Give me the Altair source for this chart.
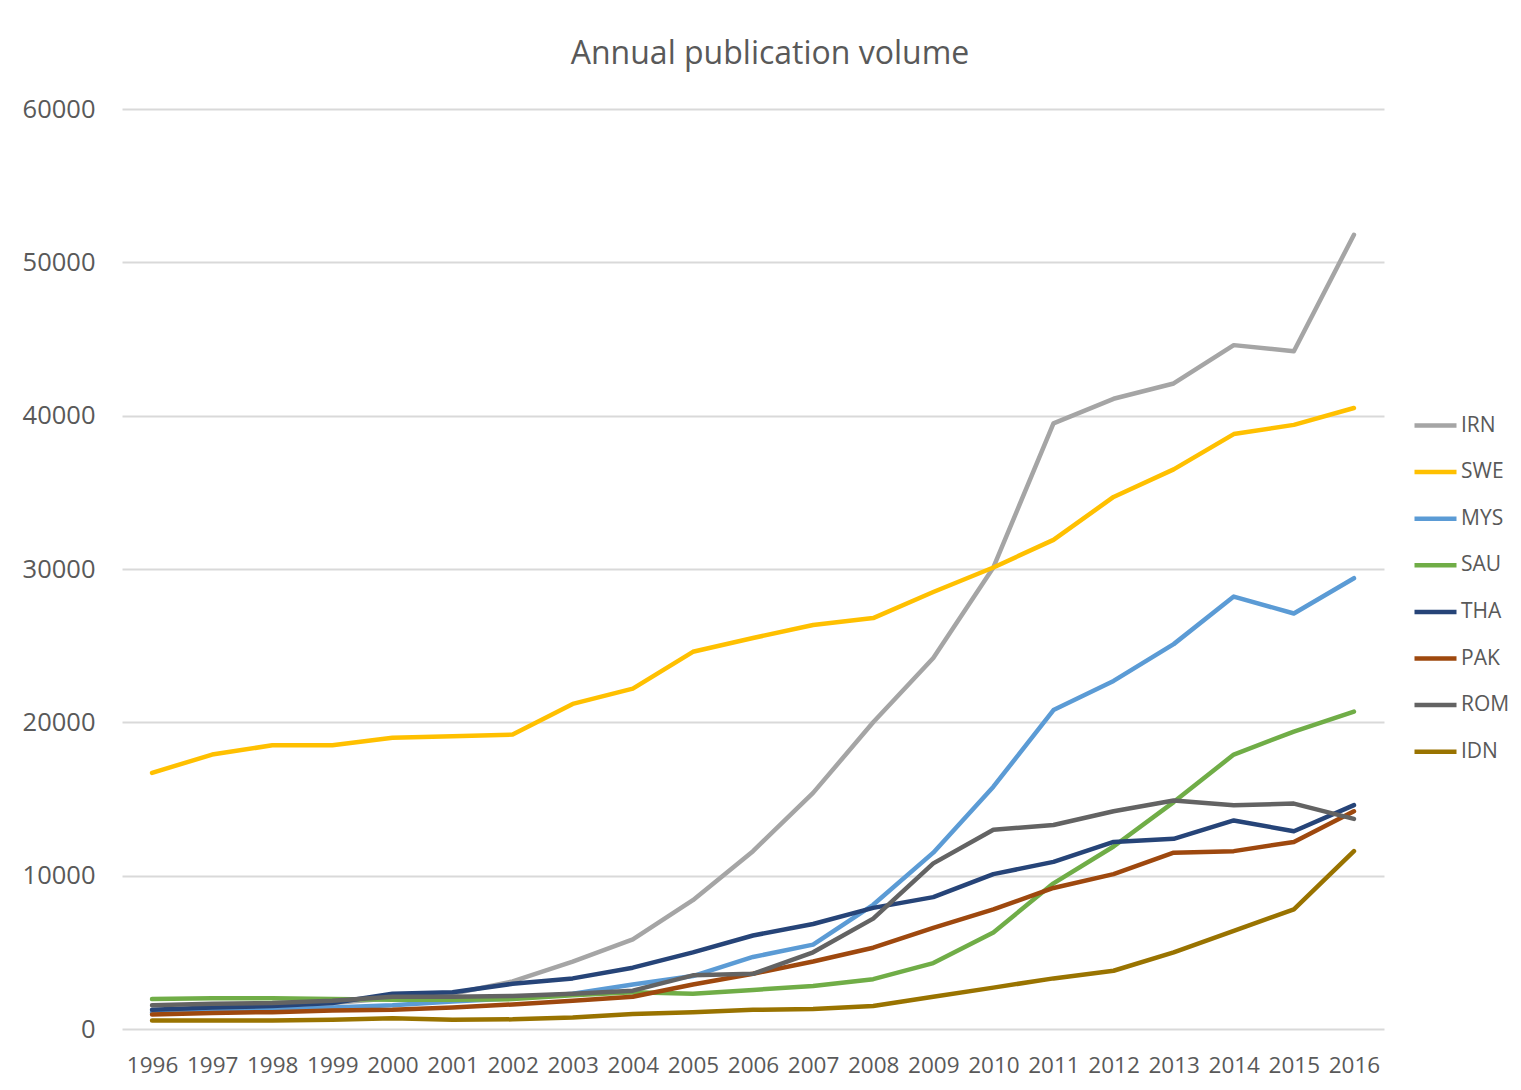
import altair as alt
import pandas as pd

years = [str(y) for y in range(1996, 2017)]
series = ["IRN", "SWE", "MYS", "SAU", "THA", "PAK", "ROM", "IDN"]
colors = ["#A5A5A5", "#FFC000", "#5B9BD5", "#70AD47", "#264478", "#9E480E", "#636363", "#997300"]

IRN = [1100, 1300, 1500, 1700, 2000, 2300, 3100, 4400, 5850, 8400, 11600, 15400, 20000, 24200, 30100, 39500, 41100, 42100, 44600, 44200, 51800]
SWE = [16700, 17900, 18500, 18500, 19000, 19100, 19200, 21200, 22200, 24600, 25500, 26350, 26800, 28500, 30100, 31900, 34700, 36500, 38800, 39400, 40500]
MYS = [1050, 1150, 1250, 1400, 1550, 1800, 2000, 2300, 2900, 3450, 4700, 5500, 8100, 11500, 15800, 20800, 22700, 25100, 28200, 27100, 29400]
SAU = [1950, 2000, 2000, 1950, 1900, 1900, 1950, 2200, 2400, 2300, 2550, 2800, 3250, 4300, 6300, 9500, 11900, 14800, 17900, 19400, 20700]
THA = [1250, 1400, 1500, 1700, 2300, 2400, 2950, 3300, 4000, 5000, 6100, 6850, 7900, 8600, 10100, 10900, 12200, 12400, 13600, 12900, 14600]
PAK = [950, 1050, 1100, 1200, 1250, 1400, 1600, 1850, 2100, 2900, 3600, 4400, 5300, 6600, 7800, 9200, 10100, 11500, 11600, 12200, 14200]
ROM = [1550, 1650, 1700, 1850, 2100, 2100, 2150, 2300, 2500, 3500, 3600, 5000, 7200, 10800, 13000, 13300, 14200, 14900, 14600, 14700, 13700]
IDN = [550, 550, 550, 600, 700, 600, 630, 750, 980, 1100, 1250, 1300, 1500, 2100, 2700, 3300, 3800, 5000, 6400, 7800, 11600]

values = {"IRN": IRN, "SWE": SWE, "MYS": MYS, "SAU": SAU, "THA": THA, "PAK": PAK, "ROM": ROM, "IDN": IDN}
rows = []
for s in series:
    for yr, v in zip(years, values[s]):
        rows.append({"Year": yr, "Country": s, "Volume": v})
df = pd.DataFrame(rows)

FONT = "Open Sans"
TXT = "#595959"

chart = alt.Chart(df).mark_line(strokeWidth=4.5, strokeCap="round", strokeJoin="round").encode(
    x=alt.X("Year:O", sort=years,
            scale=alt.Scale(type="point", padding=0.5),
            axis=alt.Axis(title=None, labelAngle=0, labelFontSize=22.5, labelColor=TXT, labelFont=FONT,
                          ticks=False, domain=False, grid=False, labelPadding=25)),
    y=alt.Y("Volume:Q", scale=alt.Scale(domain=[0, 60000]),
            axis=alt.Axis(title=None, values=[0, 10000, 20000, 30000, 40000, 50000, 60000], format="d",
                          labelFontSize=25.5, labelColor=TXT, labelFont=FONT, ticks=False, domain=False,
                          gridColor="#D9D9D9", gridWidth=2, labelPadding=27)),
    color=alt.Color("Country:N", scale=alt.Scale(domain=series, range=colors),
                    legend=alt.Legend(title=None, orient="none", legendX=1290, legendY=293,
                                      symbolType="stroke", symbolSize=1764, symbolStrokeWidth=4.5,
                                      labelFontSize=21, labelColor=TXT, labelFont=FONT,
                                      labelOffset=2, rowPadding=12.6, padding=0)),
    detail="Country:N",
).properties(
    width=1262, height=920,
    title=alt.TitleParams("Annual publication volume", fontSize=32, font=FONT, color=TXT,
                          fontWeight="normal", anchor="middle", offset=26, dx=17),
    autosize=alt.AutoSizeParams(type="none"),
    padding={"left": 114, "top": 101, "right": 129, "bottom": 50},
).configure(background="white").configure_view(stroke=None)

chart.save("out.html", embed_options={"renderer": "svg", "actions": False})
